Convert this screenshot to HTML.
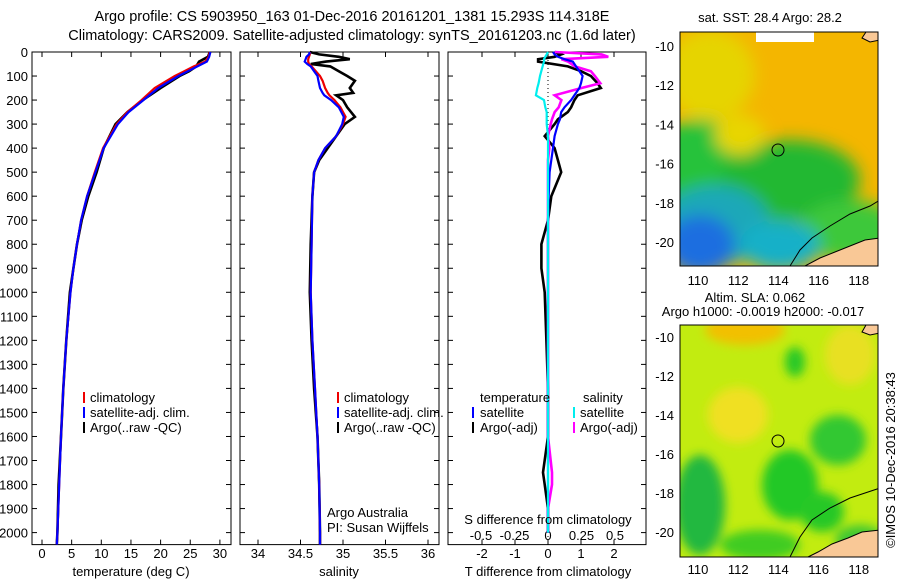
<!DOCTYPE html>
<html><head><meta charset="utf-8"><style>
body{margin:0;background:#fff;}
svg{display:block;font-family:"Liberation Sans",sans-serif;font-size:13px;}
</style></head><body>
<svg width="900" height="580" viewBox="0 0 900 580">
<defs>
<filter id="bl" x="-20%" y="-20%" width="140%" height="140%"><feGaussianBlur stdDeviation="8"/></filter>
<filter id="bl2" x="-20%" y="-20%" width="140%" height="140%"><feGaussianBlur stdDeviation="5"/></filter>
<clipPath id="c1"><rect x="680" y="32" width="198" height="234"/></clipPath>
<clipPath id="c2"><rect x="680" y="325" width="198" height="232"/></clipPath>
</defs>
<text x="352" y="21" text-anchor="middle" style="font-size:14.5px">Argo profile: CS 5903950_163 01-Dec-2016 20161201_1381 15.293S 114.318E</text>
<text x="352" y="40" text-anchor="middle" style="font-size:14.5px">Climatology: CARS2009. Satellite-adjusted climatology: synTS_20161203.nc (1.6d later)</text>
<g id="axes"></g>
<g id="marks"></g>

<g>
<rect x="83" y="392" width="2" height="11" fill="#e00"/><text x="90" y="402">climatology</text>
<rect x="83" y="407" width="2" height="11" fill="#00f"/><text x="90" y="417">satellite-adj. clim.</text>
<rect x="83" y="422" width="2" height="11" fill="#000"/><text x="90" y="432">Argo(..raw -QC)</text>
</g>
<g>
<rect x="337" y="392" width="2" height="11" fill="#e00"/><text x="344" y="402">climatology</text>
<rect x="337" y="407" width="2" height="11" fill="#00f"/><text x="344" y="417">satellite-adj. clim.</text>
<rect x="337" y="422" width="2" height="11" fill="#000"/><text x="344" y="432">Argo(..raw -QC)</text>
<text x="327" y="517">Argo Australia</text>
<text x="327" y="532">PI: Susan Wijffels</text>
</g>
<g>
<text x="480" y="402">temperature</text><text x="583" y="402">salinity</text>
<rect x="472" y="407" width="2" height="11" fill="#00f"/><text x="480" y="417">satellite</text>
<rect x="472" y="422" width="2" height="11" fill="#000"/><text x="480" y="432">Argo(-adj)</text>
<rect x="573" y="407" width="2" height="11" fill="#0ee"/><text x="580" y="417">satellite</text>
<rect x="573" y="422" width="2" height="11" fill="#f0f"/><text x="580" y="432">Argo(-adj)</text>
<text x="548" y="524" text-anchor="middle">S difference from climatology</text>
</g>

<g>
<text x="770" y="22" text-anchor="middle">sat. SST: 28.4 Argo: 28.2</text>
<g clip-path="url(#c1)">
<rect x="680" y="32" width="200" height="234" fill="#f4b600"/>
<g filter="url(#bl)">
<ellipse cx="710" cy="75" rx="45" ry="45" fill="#e6d400"/>
<ellipse cx="700" cy="170" rx="60" ry="50" fill="#27c23a"/>
<ellipse cx="790" cy="180" rx="70" ry="40" fill="#22b830"/>
<ellipse cx="850" cy="230" rx="50" ry="30" fill="#3cc83a"/>
<ellipse cx="715" cy="225" rx="55" ry="40" fill="#1aa8b8"/>
<ellipse cx="700" cy="245" rx="35" ry="30" fill="#1f6ee0"/>
<ellipse cx="780" cy="245" rx="40" ry="25" fill="#18b0c8"/>
<ellipse cx="740" cy="135" rx="25" ry="20" fill="#e8d600"/>
</g>
<rect x="756" y="32" width="58" height="10" fill="#fff"/>
<path d="M880 200 L870 206 850 214 830 226 812 238 800 250 790 266" fill="none" stroke="#000" stroke-width="1"/>
<path d="M880 238 L865 240 850 246 835 252 820 258 805 266 880 266Z" fill="#f9c896" stroke="#000" stroke-width="1"/>
<path d="M880 32 L866 32 862 38 870 42 880 40Z" fill="#f9c896" stroke="#000"/>
</g>
<rect x="680" y="32" width="198" height="234" fill="none" stroke="#000"/>
<circle cx="778" cy="150" r="6" fill="none" stroke="#000"/>
</g>

<g>
<text x="755" y="302" text-anchor="middle">Altim. SLA: 0.062</text>
<text x="763" y="316" text-anchor="middle">Argo h1000: -0.0019 h2000: -0.017</text>
<g clip-path="url(#c2)">
<rect x="680" y="325" width="200" height="232" fill="#c2ec10"/>
<g filter="url(#bl2)">
<ellipse cx="745" cy="330" rx="40" ry="15" fill="#f2c000"/>
<ellipse cx="738" cy="415" rx="30" ry="28" fill="#f0e020"/>
<ellipse cx="850" cy="355" rx="25" ry="30" fill="#e8e020"/>
<ellipse cx="795" cy="362" rx="10" ry="15" fill="#28c828"/>
<ellipse cx="700" cy="505" rx="25" ry="50" fill="#22b840"/>
<ellipse cx="790" cy="485" rx="28" ry="35" fill="#22c828"/>
<ellipse cx="838" cy="440" rx="28" ry="25" fill="#30c830"/>
<ellipse cx="822" cy="512" rx="22" ry="20" fill="#28c828"/>
<ellipse cx="760" cy="545" rx="40" ry="15" fill="#40cc20"/>
<ellipse cx="860" cy="540" rx="25" ry="15" fill="#40c830"/>
</g>
<path d="M880 488 L850 498 830 508 812 520 800 537 790 557" fill="none" stroke="#000"/>
<path d="M880 530 L862 532 848 538 832 544 818 552 808 557 880 557Z" fill="#f9c896" stroke="#000"/>
<path d="M880 325 L866 325 862 332 870 335 880 333Z" fill="#f9c896" stroke="#000"/>
</g>
<rect x="680" y="325" width="198" height="232" fill="none" stroke="#000"/>
<circle cx="778" cy="441" r="6" fill="none" stroke="#000"/>
</g>
<text transform="translate(895,460) rotate(-90)" text-anchor="middle">©IMOS 10-Dec-2016 20:38:43</text>

<script>
const depthTicks=[0,100,200,300,400,500,600,700,800,900,1000,1100,1200,1300,1400,1500,1600,1700,1800,1900,2000];
const tempTicks=[0,5,10,15,20,25,30];
const salTicks=[34,34.5,35,35.5,36];
const salTickLabels=["34","34.5","35","35.5","36"];
const tdTicks=[-2,-1,0,1,2];
const sdTicks=[-0.5,-0.25,0,0.25,0.5];
const sdTickLabels=["-0.5","-0.25","0","0.25","0.5"];

const depthT=[0,20,40,60,80,100,150,200,250,300,400,500,600,700,800,900,1000,1200,1400,1600,1800,2000,2050];
const tempClim=[28.3,28.1,27.5,25.6,24.0,22.4,19.0,16.8,14.4,12.6,10.3,8.9,7.6,6.6,5.9,5.3,4.8,4.1,3.6,3.2,2.9,2.6,2.5];
const tempSat=[28.4,28.2,27.8,26.2,24.6,23.0,19.6,17.1,14.6,12.8,10.4,9.0,7.6,6.6,5.9,5.3,4.8,4.1,3.6,3.2,2.9,2.6,2.5];
const tempArgo=[28.3,28.0,26.5,26.0,24.8,23.2,20.0,17.0,14.4,12.4,10.4,9.2,7.8,6.7,5.9,5.3,4.7,4.1,3.6,3.2,2.8,2.6,2.5];

const depthS=[0,10,20,30,40,50,60,80,100,120,150,170,180,200,230,270,300,350,400,450,500,600,800,1000,1200,1400,1600,1800,2000,2050];
const salClim=[34.61,34.61,34.60,34.59,34.59,34.60,34.63,34.68,34.73,34.76,34.79,34.82,34.84,34.90,34.97,35.03,35.00,34.92,34.79,34.71,34.66,34.64,34.63,34.62,34.64,34.67,34.70,34.72,34.73,34.73];
const salSat=[34.61,34.60,34.57,34.56,34.55,34.58,34.62,34.66,34.70,34.71,34.73,34.76,34.78,34.86,34.95,35.01,34.99,34.92,34.79,34.71,34.66,34.64,34.63,34.62,34.64,34.67,34.70,34.72,34.73,34.73];
const salArgo=[34.61,34.72,34.95,35.08,34.80,34.62,34.85,34.95,35.05,35.14,35.08,35.12,34.92,35.00,35.05,35.14,35.02,34.92,34.82,34.72,34.66,34.64,34.62,34.61,34.63,34.66,34.70,34.72,34.73,34.73];

const depthD=[0,10,20,30,40,60,80,100,130,150,180,200,230,250,280,300,350,400,450,500,600,700,800,900,1000,1200,1400,1600,1750,1800,1900,2000];
const tdSat=[0.15,0.2,0.3,0.5,0.75,0.85,0.95,1.05,1.0,0.95,0.8,0.7,0.5,0.4,0.36,0.3,0.2,0.15,0.1,0.05,0.02,0.0,0.0,0.0,0.0,0.0,0.0,0.0,0.0,0.0,0.0,0.0];
const tdArgo=[0.2,0.4,0.2,-0.3,-0.3,0.6,1.0,1.3,1.5,1.6,0.9,0.8,0.7,0.6,0.3,0.2,-0.1,0.2,0.3,0.4,0.1,0.0,-0.2,-0.2,-0.1,-0.05,0.0,0.0,-0.15,-0.1,0.0,0.0];
const sdSat=[0.0,-0.01,-0.02,-0.03,-0.03,-0.04,-0.05,-0.06,-0.07,-0.08,-0.09,-0.03,-0.02,-0.01,-0.01,-0.01,0.0,0.0,0.0,0.0,0.0,0.0,0.0,0.0,0.0,0.0,0.0,0.0,0.0,0.0,0.0,0.0];
const sdArgo=[0.05,0.40,0.45,0.10,0.15,0.2,0.32,0.35,0.39,0.25,0.05,0.1,0.08,0.05,0.03,0.02,0.0,0.01,0.0,0.0,0.0,0.0,0.0,0.0,0.0,0.0,0.0,0.0,0.03,0.03,0.0,0.0];

const mapLon=[110,112,114,116,118];
const mapLat=[-10,-12,-14,-16,-18,-20];

const NS="http://www.w3.org/2000/svg";
const axes=document.getElementById('axes'), marks=document.getElementById('marks');
function mk(tag,at,parent){const e=document.createElementNS(NS,tag);for(const k in at)e.setAttribute(k,at[k]);(parent||axes).appendChild(e);return e;}
const yD=d=>52+d*0.2403;
const panels=[{x0:32,x1:231,name:'temperature-panel'},{x0:240,x1:439,name:'salinity-panel'},{x0:448,x1:646,name:'difference-panel'}];
const xT=v=>42+v*5.93, xS=v=>258+(v-34)*85, xTD=v=>548+v*33, xSD=v=>548+v*134;

panels.forEach((p,i)=>{
  const r=mk('rect',{x:p.x0,y:52,width:p.x1-p.x0,height:yD(2050)-52,fill:'none',stroke:'#000'});
  
  
  depthTicks.forEach(d=>{
    mk('line',{x1:p.x0,x2:p.x0+5,y1:yD(d),y2:yD(d),stroke:'#000'});
    mk('line',{x1:p.x1-5,x2:p.x1,y1:yD(d),y2:yD(d),stroke:'#000'});
  });
});
depthTicks.forEach(d=>{const t=mk('text',{x:28,y:yD(d)+5,'text-anchor':'end'});t.textContent=d;
  
  });
function xticks(vals,labels,fx,ly){vals.forEach((v,i)=>{const x=fx(v);
  mk('line',{x1:x,x2:x,y1:yD(2050),y2:yD(2050)-5,stroke:'#000'});mk('line',{x1:x,x2:x,y1:52,y2:57,stroke:'#000'});
  const t=mk('text',{x:x,y:ly,'text-anchor':'middle'});t.textContent=labels[i];
  
  });}
xticks(tempTicks,tempTicks.map(String),xT,558);
xticks(salTicks,salTickLabels,xS,558);
xticks(tdTicks,tdTicks.map(String),xTD,558);
sdTicks.forEach((v,i)=>{const t=mk('text',{x:xSD(v),y:540,'text-anchor':'middle'});t.textContent=sdTickLabels[i];});
[['temperature (deg C)',131],['salinity',339],['T difference from climatology',548]].forEach(a=>{const t=mk('text',{x:a[1],y:576,'text-anchor':'middle'});t.textContent=a[0];
  
  });
mk('line',{x1:548,x2:548,y1:52,y2:yD(2050),stroke:'#000','stroke-dasharray':'1,3'});

function line(xs,ds,fx,color,name,w){
  const pts=xs.map((v,i)=>fx(v).toFixed(1)+','+yD(ds[i]).toFixed(1)).join(' ');
  const pl=mk('polyline',{points:pts,fill:'none',stroke:color,'stroke-width':w||2.2},marks);
  
  
}
line(tempArgo,depthT,xT,'#000','temp-argo-line',2.6);
line(tempClim,depthT,xT,'#e00','temp-climatology-line');
line(tempSat,depthT,xT,'#00f','temp-satellite-line');
line(salArgo,depthS,xS,'#000','sal-argo-line',2.6);
line(salClim,depthS,xS,'#e00','sal-climatology-line');
line(salSat,depthS,xS,'#00f','sal-satellite-line');
line(tdArgo,depthD,xTD,'#000','tdiff-argo-line',2.6);
line(sdArgo,depthD,xSD,'#f0f','sdiff-argo-line',2.6);
line(tdSat,depthD,xTD,'#00f','tdiff-satellite-line');
line(sdSat,depthD,xSD,'#0ee','sdiff-satellite-line');

const lonX=v=>698+(v-110)*20.1;
[[46,19.6,266,285],[337,19.5,557,574]].forEach(m=>{
  mapLat.forEach(la=>{const y=m[0]+(-10-la)*m[1];
    mk('line',{x1:680,x2:684,y1:y,y2:y,stroke:'#000'});mk('line',{x1:874,x2:878,y1:y,y2:y,stroke:'#000'});
    const t=mk('text',{x:674,y:y+5,'text-anchor':'end'});t.textContent=la;
    
    });
  mapLon.forEach(lo=>{const x=lonX(lo);
    mk('line',{x1:x,x2:x,y1:m[2],y2:m[2]-4,stroke:'#000'});
    const t=mk('text',{x:x,y:m[3],'text-anchor':'middle'});t.textContent=lo;
    
    });
});
</script>
</svg>
</body></html>
